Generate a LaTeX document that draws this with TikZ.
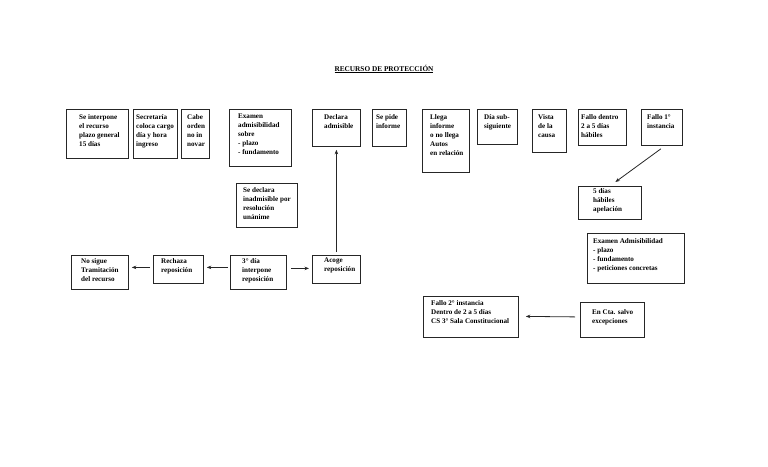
\documentclass[tikz,border=0pt]{standalone}
\usepackage{fontspec}
\setmainfont{Liberation Serif}
\usetikzlibrary{arrows.meta,calc}
\tikzset{
  boxs/.style={draw=black!85, line width=0.8pt, inner sep=0pt, anchor=north west},
  txt/.style={anchor=north west, inner sep=0pt, align=left, font=\fontsize{7.1}{9}\selectfont\bfseries},
  arr/.style={-{Stealth[length=4.5pt,width=3.5pt]}, line width=0.8pt, draw=black!85}
}
% \bx{name}{x1}{y1}{x2}{y2}{padx}{pady}{text}
\newcommand{\bx}[8]{%
  \node[boxs, minimum width=#4pt-#2pt, minimum height=#5pt-#3pt] (#1) at (#2,#3) {};
  \node[txt] (#1t) at ($(#1.north west)+(#6,#7)$) {#8};}
\begin{document}
\begin{tikzpicture}[x=1pt,y=-1pt]
\useasboundingbox (0,0) rectangle (768,466);
\node[anchor=base, inner sep=0pt, font=\fontsize{7.3}{9}\selectfont\bfseries] (title) at (384,71) {\underline{RECURSO\ DE\ PROTECCIÓN}};
\bx{a}{66}{109}{128}{158}{13}{5}{Se interpone\\el recurso\\plazo general\\15 días}
\bx{b}{133}{109}{177}{158}{3}{5}{Secretaría\\coloca cargo\\día y hora\\ingreso}
\bx{c}{181}{109}{209}{158}{6}{5}{Cabe\\orden\\no in\\novar}
\bx{d}{229}{109}{291}{166}{9}{5}{Examen\\admisibilidad\\sobre\\- plazo\\- fundamento}
\bx{decl}{312}{109}{360}{146}{12}{5}{Declara\\admisible}
\bx{e}{372}{109}{406}{146}{4}{5}{Se pide\\informe}
\bx{f}{422}{109}{469}{172}{8}{5}{Llega\\informe\\o no llega\\Autos\\en relación}
\bx{g}{477}{109}{517}{144}{7}{5}{Día sub-\\siguiente}
\bx{h}{532}{109}{566}{152}{6}{5}{Vista\\de la\\causa}
\bx{i}{578}{109}{626}{145}{3}{5}{Fallo dentro\\2 a 5 días\\hábiles}
\bx{fi}{641}{109}{682}{145}{6}{5}{Fallo 1°\\instancia}
\bx{apel}{578}{186}{641}{219}{15}{2}{5 días\\hábiles\\apelación}
\bx{exa}{587}{233}{684}{283}{6}{5}{Examen Admisibilidad\\- plazo\\- fundamento\\- peticiones concretas}
\bx{fii}{423}{296}{518}{337}{8}{4}{Fallo 2° instancia\\Dentro de 2 a 5 días\\CS 3° Sala Constitucional}
\bx{cta}{580}{302}{644}{337}{12}{7}{En Cta. salvo\\excepciones}
\bx{inad}{236}{183}{297}{227}{7}{4}{Se declara\\inadmisible por\\resolución\\unánime}
\bx{nos}{71}{255}{128}{289}{10}{3}{No sigue\\Tramitación\\del recurso}
\bx{rech}{153}{255}{203}{283}{8}{3}{Rechaza\\reposición}
\bx{dia}{230}{255}{286}{289}{12}{3}{3° día\\interpone\\reposición}
\bx{aco}{312}{255}{360}{283}{12}{3}{Acoge\\reposición}
\draw[arr] ($(fi.south)+(-1,3)$) -- ($(apel.north)+(5.5,-4)$);
\draw[arr] ($(cta.west)+(-5,-3)$) -- ($(fii.east)+(7,-0.5)$);
\draw[arr] ($(rech.west)+(-3,-2)$) -- ($(nos.east)+(3,-5)$);
\draw[arr] ($(dia.west)+(-2,-5)$) -- ($(rech.east)+(3,-2)$);
\draw[arr] ($(dia.east)+(4,-4)$) -- ($(aco.west)+(-3,-1)$);
\draw[arr] ($(aco.north)+(0,-3)$) -- ($(decl.south)+(0,3)$);
\end{tikzpicture}
\end{document}
